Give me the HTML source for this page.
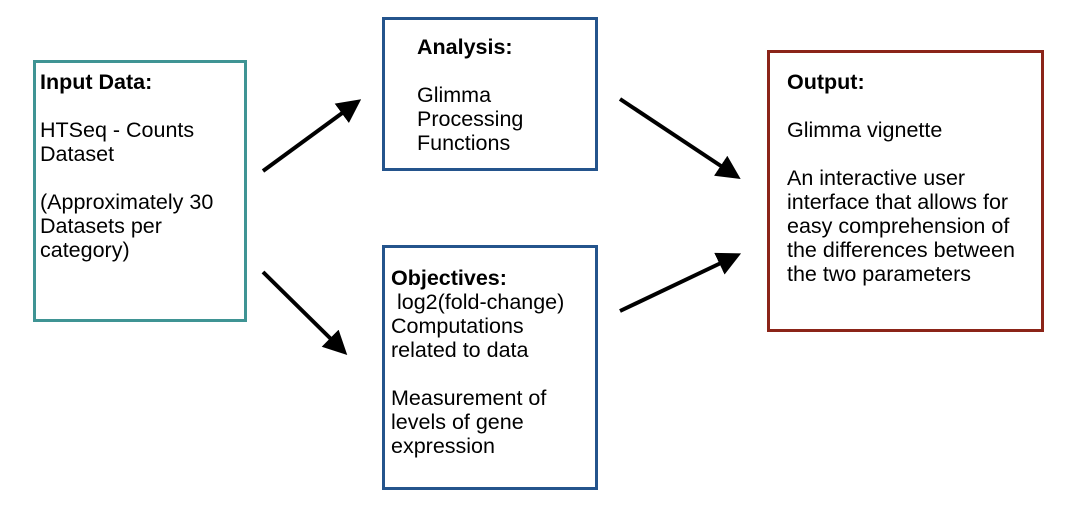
<!DOCTYPE html>
<html><head><style>
body{margin:0;width:1076px;height:510px;background:#fff;position:relative;overflow:hidden;font-family:"Liberation Sans",Arial,sans-serif;}
.b{position:absolute;box-sizing:border-box;border:3.5px solid;}
.t{position:absolute;font-size:21.5px;line-height:24px;color:#000;white-space:pre;}
b{font-weight:bold;}
</style></head><body>
<div class="b" style="left:33px;top:60px;width:214px;height:262px;border-color:#3f9494"></div>
<div class="b" style="left:382px;top:17px;width:216px;height:154px;border-color:#24548c"></div>
<div class="b" style="left:382px;top:245px;width:216px;height:245px;border-color:#24548c"></div>
<div class="b" style="left:767px;top:50px;width:277px;height:282px;border-color:#8b2418"></div>
<div class="t" style="left:40px;top:70px"><b>Input Data:</b>

HTSeq - Counts
Dataset

(Approximately 30
Datasets per
category)</div>
<div class="t" style="left:417px;top:35px"><b>Analysis:</b>

Glimma
Processing
Functions</div>
<div class="t" style="left:391px;top:266px"><b>Objectives:</b>
 log2(fold-change)
Computations
related to data

Measurement of
levels of gene
expression</div>
<div class="t" style="left:787px;top:70px"><b>Output:</b>

Glimma vignette

An interactive user
interface that allows for
easy comprehension of
the differences between
the two parameters</div>
<svg width="1076" height="510" style="position:absolute;left:0;top:0">
<defs><marker id="a" markerWidth="6" markerHeight="6" refX="1" refY="3" orient="auto" markerUnits="strokeWidth"><path d="M0,0 L6,3 L0,6 z" fill="#000"/></marker></defs>
<g stroke="#000" stroke-width="4" marker-end="url(#a)">
<line x1="263" y1="171" x2="345" y2="111"/>
<line x1="263" y1="272" x2="333" y2="341"/>
<line x1="620" y1="99" x2="724" y2="168"/>
<line x1="620" y1="311" x2="723" y2="262"/>
</g></svg>
</body></html>
